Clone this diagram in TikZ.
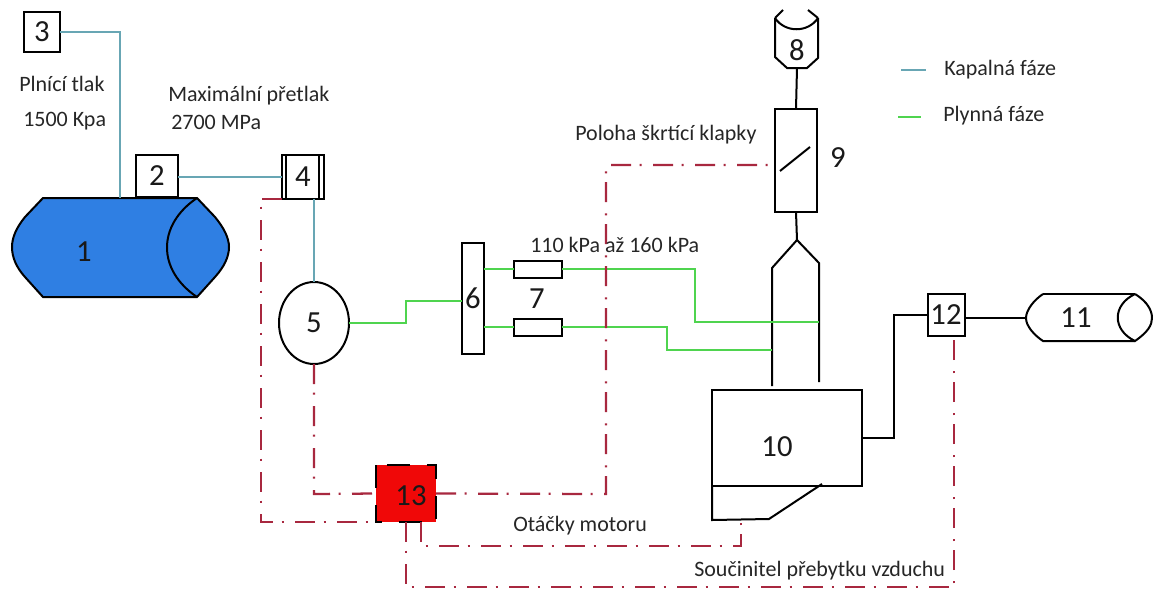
\documentclass[tikz,border=0pt]{standalone}
\usepackage{fontspec}
\usetikzlibrary{shapes.geometric}
\setmainfont{Carlito}
\definecolor{tankblue}{HTML}{2F7FE3}
\definecolor{liquidc}{HTML}{68A6B4}
\definecolor{gasc}{HTML}{4FD44F}
\definecolor{signalc}{HTML}{A8283F}
\definecolor{ecured}{HTML}{F00808}
\tikzset{
  part/.style={draw=black,line width=1.5pt,fill=white,inner sep=0pt,outer sep=0pt},
  plain/.style={draw=black,line width=1.5pt},
  liquid/.style={draw=liquidc,line width=1.6pt},
  gas/.style={draw=gasc,line width=1.8pt},
  signal/.style={draw=signalc,line width=1.7pt,dash pattern=on 15pt off 6.5pt on 1.5pt off 8.5pt},
  num/.style={font=\fontsize{23}{25}\selectfont,inner sep=0pt,text=black!90},
  caption/.style={font=\fontsize{16.5}{18}\selectfont,inner sep=0pt,text=black!85},
}
\begin{document}
\begin{tikzpicture}[x=0.75pt,y=-0.75pt,line join=miter]
  \useasboundingbox (0,0) rectangle (1153,590);
  % tank
  \draw[plain,fill=tankblue] (43,198) -- (197,198) -- (215,217) .. controls (224,228) and (229,238) .. (229,247) .. controls (229,257) and (224,267) .. (215,277) -- (197,297) -- (43,297) -- (25,277) .. controls (16,267) and (12,257) .. (12,247) .. controls (12,238) and (16,228) .. (25,217) -- cycle;
  \draw[plain] (197,198) .. controls (157,225) and (157,270) .. (197,297);
  \node[num] (tanknum) at (84,252) {1};
  \coordinate (tanktop) at (120,198);
  % boxes
  \node[part,num,minimum width=36pt*0.75,minimum height=40pt*0.75] (fillbox) at (42,32) {3};
  \node[part,num,minimum width=42pt*0.75,minimum height=42pt*0.75] (shutoff) at (157,176) {2};
  \node[part,num,minimum width=42pt*0.75,minimum height=44pt*0.75] (valve) at (303,177) {4};
  \draw[plain] (286,155) -- (286,199) (319,155) -- (319,199);
  \coordinate (valveout) at (314,199);
  \coordinate (valveecu) at (282,199);
  \node[part,num,ellipse,minimum width=70pt*0.75,minimum height=82pt*0.75] (reducer) at (314,323) {5};
  \node[part,num,minimum width=22pt*0.75,minimum height=111pt*0.75] (rail) at (473,298.5) {6};
  \node[part,minimum width=48pt*0.75,minimum height=17pt*0.75] (injup) at (538,269) {};
  \node[part,minimum width=48pt*0.75,minimum height=17pt*0.75] (injdown) at (538,327) {};
  \node[num] (injnum) at (537,299) {7};
  % air filter
  \draw[plain] (775,18) -- (775,57) -- (787,68) -- (807,68) -- (818,58) -- (818,18);
  \draw[plain] (775,18) .. controls (785,33) and (808,33) .. (818,18);
  \draw[plain] (775,18) -- (783,10) (808,10) -- (818,18);
  \node[num] (filternum) at (797,50) {8};
  \coordinate (filterout) at (797,68);
  % throttle
  \node[part,minimum width=42pt*0.75,minimum height=103pt*0.75] (throttle) at (796,160.5) {};
  \draw[plain] (780,171) -- (810,147);
  \node[num] (throttlenum) at (838,158) {9};
  \coordinate (throttlesig) at (775,161);
  \coordinate (coneapex) at (797,240);
  % intake
  \draw[plain] (772,386) -- (772,268) -- (coneapex) -- (819,263) -- (819,382);
  % engine
  \node[part,minimum width=150pt*0.75,minimum height=96pt*0.75] (engine) at (787,438) {};
  \draw[plain] (engine.south west) -- (712,520) -- (769,519) -- (822,484);
  \node[num] (enginenum) at (777,447) {10};
  \coordinate (flywheel) at (741,520);
  % exhaust
  \node[part,num,minimum width=37pt*0.75,minimum height=42pt*0.75] (lambda) at (946,315) {12};
  \draw[plain] (1043,294) .. controls (1034,300) and (1026,310) .. (1026,318) .. controls (1026,326) and (1034,335) .. (1043,341) -- (1135,341);
  \draw[plain] (1043,294) -- (1135,294);
  \draw[plain] (1135,294) .. controls (1112,305) and (1112,330) .. (1135,341) .. controls (1148,332) and (1152,325) .. (1152,318) .. controls (1152,311) and (1148,302) .. (1135,294);
  \node[num] (mufflernum) at (1076,318) {11};
  \coordinate (mufflerin) at (1026,318);
  % control unit
  \node[fill=ecured,minimum width=60pt*0.75,minimum height=57pt*0.75,inner sep=0pt,outer sep=0pt] (ecu) at (406,493.5) {};
  \draw[black,line width=1.5pt,dash pattern=on 17pt off 13pt] (ecu.north west) rectangle (ecu.south east);
  \node[num] (ecunum) at (411,496) {13};
  % lines
  \draw[liquid] (fillbox.east) -| (tanktop);
  \draw[liquid] (shutoff.east |- valve.west) -- (valve.west);
  \draw[liquid] (valveout) -- (reducer.north);
  \draw[gas] (reducer.east) -- (406,323) -- (406,301) -- (rail.west |- 0,301);
  \draw[gas] (rail.east |- injup) -- (injup.west);
  \draw[gas] (rail.east |- injdown) -- (injdown.west);
  \draw[gas] (injup.east) -- (695,269) -- (695,322) -- (819,322);
  \draw[gas] (injdown.east) -- (667,327) -- (667,350) -- (772,350);
  \draw[plain] (filterout) -- (throttle.north);
  \draw[plain] (throttle.south) -- (coneapex);
  \draw[plain] (engine.east) -- (894,438) -- (894,315) -- (lambda.west);
  \draw[plain] (965,318) -- (mufflerin);
  % signals
  \draw[signal] (valveecu) -- (261,199) -- (261,522) -- (376,522);
  \draw[signal] (reducer.south) -- (314,494) -- (ecu.west);
  \draw[signal] (ecu.east) -- (606,494) -- (606,165) -- (throttlesig |- 0,165);
  \draw[signal] (406,522) -- (406,587) -- (954,587) -- (954,336);
  \draw[signal] (421,522) -- (421,546) -- (741,546) -- (flywheel);
  % legend
  \coordinate (liquida) at (901,70);
  \coordinate (liquidb) at (926,70);
  \coordinate (gasa) at (898,117);
  \coordinate (gasb) at (921,117);
  \draw[liquid] (liquida) -- (liquidb);
  \draw[gas] (gasa) -- (gasb);
  \node[caption,anchor=west] at (944,70) {Kapalná fáze};
  \node[caption,anchor=west] at (943,116) {Plynná fáze};
  % texts
  \node[caption,anchor=west] at (19,84) {Plnící tlak};
  \node[caption,anchor=west] at (23,121) {1500 Kpa};
  \node[caption,anchor=west] at (168,96) {Maximální přetlak};
  \node[caption,anchor=west] at (171,122) {2700 MPa};
  \node[caption,anchor=west] at (575,135) {Poloha škrtící klapky};
  \node[caption,anchor=west] at (530,245) {110 kPa až 160 kPa};
  \node[caption,anchor=west] at (513,526) {Otáčky motoru};
  \node[caption,anchor=west] at (694,571) {Součinitel přebytku vzduchu};
\end{tikzpicture}
\end{document}
